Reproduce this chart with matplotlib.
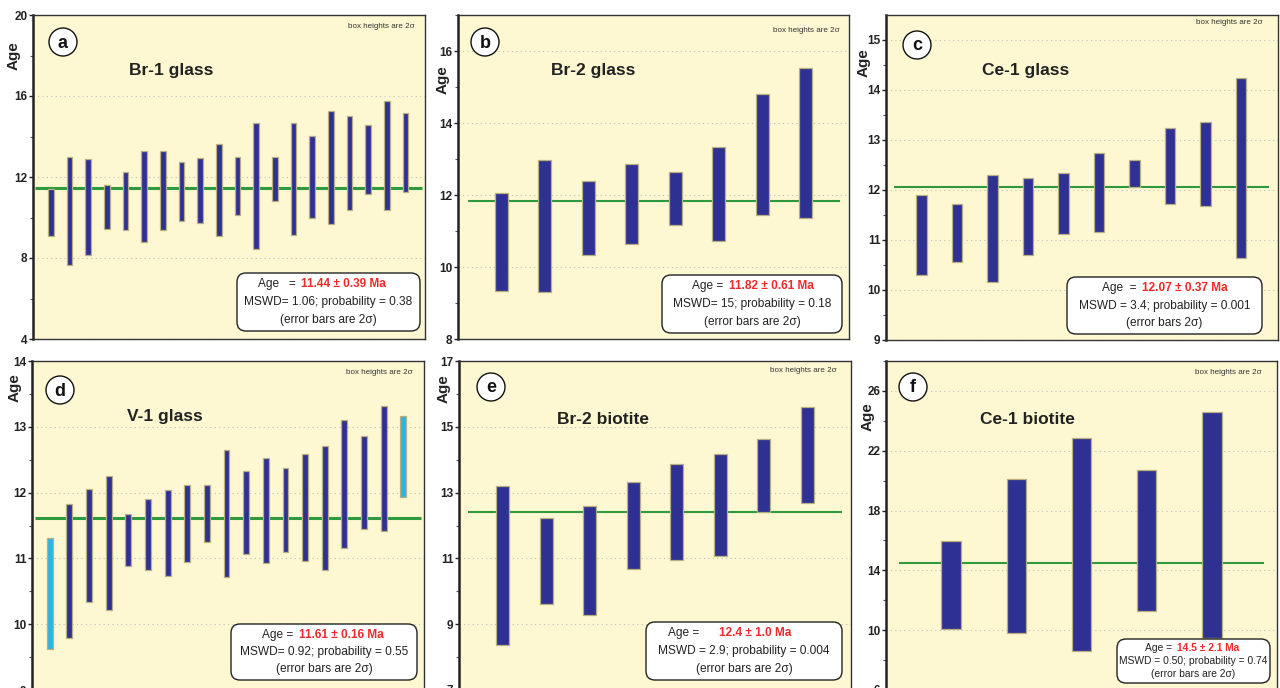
import matplotlib
matplotlib.use("Agg")
import matplotlib.pyplot as plt
from matplotlib.patches import FancyBboxPatch, Circle
from matplotlib.ticker import FixedLocator

plt.rcParams['font.family'] = ['Liberation Sans', 'DejaVu Sans']

# single-grain ages, bottom and top of each 2-sigma box (Ma)
br1_glass_lo = [9.07, 7.63, 8.13, 9.42, 9.39, 8.77, 9.40, 9.82, 9.74, 9.09,
                10.12, 8.43, 10.83, 9.16, 9.97, 9.67, 10.35, 11.14, 10.36, 11.24]
br1_glass_hi = [11.39, 13.01, 12.88, 11.61, 12.24, 13.29, 13.28, 12.72, 12.93, 13.64,
                13.00, 14.69, 13.00, 14.67, 14.04, 15.25, 15.03, 14.57, 15.76, 15.17]

br2_glass_lo = [9.33, 9.31, 10.34, 10.65, 11.16, 10.72, 11.44, 11.36]
br2_glass_hi = [12.06, 12.96, 12.38, 12.87, 12.64, 13.34, 14.81, 15.52]

ce1_glass_lo = [10.30, 10.57, 10.16, 10.71, 11.13, 11.17, 12.07, 11.73, 11.69, 10.65]
ce1_glass_hi = [11.91, 11.71, 12.31, 12.25, 12.35, 12.74, 12.61, 13.24, 13.36, 14.24]

v1_glass_lo = [9.62, 9.79, 10.33, 10.21, 10.88, 10.83, 10.73, 10.94, 11.25, 10.72,
               11.06, 10.93, 11.10, 10.96, 10.83, 11.16, 11.44, 11.41, 11.94]
v1_glass_hi = [11.31, 11.82, 12.06, 12.25, 11.67, 11.91, 12.04, 12.12, 12.12, 12.65,
               12.33, 12.53, 12.37, 12.58, 12.71, 13.11, 12.86, 13.31, 13.17]
v1_rejected = [True] + [False] * 17 + [True]

br2_biot_lo = [8.38, 9.62, 9.28, 10.68, 10.95, 11.07, 12.42, 12.68]
br2_biot_hi = [13.19, 12.24, 12.58, 13.32, 13.86, 14.18, 14.64, 15.59]

ce1_biot_lo = [10.07, 9.82, 8.61, 11.26, 9.46]
ce1_biot_hi = [15.98, 20.13, 22.83, 20.70, 24.61]

# weighted mean ages
mean_ages = [11.44, 11.82, 12.07, 11.61, 12.4, 14.5]
titles = ["Br-1 glass", "Br-2 glass", "Ce-1 glass", "V-1 glass", "Br-2 biotite", "Ce-1 biotite"]
letters = ["a", "b", "c", "d", "e", "f"]
age_text = ["Age   = ", "Age = ", "Age  = ", "Age = ", "Age =   ", "Age = "]
age_value = ["11.44 ± 0.39 Ma", "11.82 ± 0.61 Ma", "12.07 ± 0.37 Ma",
             "11.61 ± 0.16 Ma", "12.4 ± 1.0 Ma", "14.5 ± 2.1 Ma"]
mswd_text = ["MSWD= 1.06; probability = 0.38", "MSWD= 15; probability = 0.18",
             "MSWD = 3.4; probability = 0.001", "MSWD= 0.92; probability = 0.55",
             "MSWD = 2.9; probability = 0.004", "MSWD = 0.50; probability = 0.74"]
err_text = ["(error bars are 2σ)", "(error bars are 2σ)", "(error bars 2σ)",
            "(error bars are 2σ)", "(error bars are 2σ)", "(error bars are 2σ)"]

# labelled and unlabelled y ticks of each panel
major_ticks = [[4, 8, 12, 16, 20], [8, 10, 12, 14, 16], [9, 10, 11, 12, 13, 14, 15],
               [9, 10, 11, 12, 13, 14], [7, 9, 11, 13, 15, 17], [6, 10, 14, 18, 22, 26]]
minor_ticks = [[6, 10, 14, 18], [9, 11, 13, 15, 17], [9.5, 10.5, 11.5, 12.5, 13.5, 14.5],
               [9.5, 10.5, 11.5, 12.5, 13.5], [8, 10, 12, 14, 16], [8, 12, 16, 20, 24, 28]]

lows = [br1_glass_lo, br2_glass_lo, ce1_glass_lo, v1_glass_lo, br2_biot_lo, ce1_biot_lo]
highs = [br1_glass_hi, br2_glass_hi, ce1_glass_hi, v1_glass_hi, br2_biot_hi, ce1_biot_hi]

W, H = 1280, 688
NAVY = '#2E3192'
CYAN = '#29B5E8'
GREEN = '#2E9A3E'
PAPER = '#FEF8D2'

# panel frames in pixels: left, right, top, bottom
frames = [(33, 425, 15, 339), (458, 849, 15, 339), (886, 1278, 15, 340),
          (32, 424, 361, 690), (459, 851, 361, 690), (886, 1277, 361, 690)]
ylims = [(4, 20), (8, 17), (9, 15.5), (9, 14), (7, 17), (6, 28)]
xlims = [(0.05, 21.04), (0, 9), (0, 11.04), (0.1, 20.05), (0, 9), (0, 6)]
line_x = [(0.18, 20.86), (0.23, 8.8), (0.22, 10.8), (0.27, 19.88), (0.21, 8.8), (0.2, 5.8)]
line_w = [2.2, 1.5, 1.5, 2.2, 1.5, 1.5]

fig = plt.figure(figsize=(W / 100, H / 100), dpi=100)
fig.patch.set_facecolor('white')

for i in range(6):
    l, r, t, b = frames[i]
    ax = fig.add_axes([l / W, 1 - b / H, (r - l) / W, (b - t) / H])
    ax.set_facecolor(PAPER)
    xs = list(range(1, len(lows[i]) + 1))
    heights = [hi - lo for lo, hi in zip(lows[i], highs[i])]
    if i == 3:
        colors = [CYAN if rej else NAVY for rej in v1_rejected]
    else:
        colors = NAVY
    ax.bar(xs, heights, bottom=lows[i], width=0.3, color=colors,
           edgecolor='#B9AE82', linewidth=0.9, zorder=3)
    ax.hlines(mean_ages[i], line_x[i][0], line_x[i][1], color=GREEN,
              linewidth=line_w[i], zorder=2)
    ax.set_xlim(*xlims[i])
    ax.set_ylim(*ylims[i])
    ax.set_xticks([])
    ax.yaxis.set_major_locator(FixedLocator(major_ticks[i]))
    ax.yaxis.set_minor_locator(FixedLocator(minor_ticks[i]))
    ax.tick_params(axis='y', which='major', direction='out', length=3, width=1,
                   labelsize=8.5, pad=1, colors='#222222')
    ax.tick_params(axis='y', which='minor', direction='out', length=2.5, width=0.8,
                   colors='#555555')
    for lab in ax.get_yticklabels():
        lab.set_fontweight('bold')
    ax.grid(axis='y', which='major', linestyle=(0, (1, 3)), color='#BDBDBD',
            linewidth=0.8, zorder=0)
    for side in ['top', 'right', 'bottom']:
        ax.spines[side].set_linewidth(1.0)
        ax.spines[side].set_color('#333333')
    ax.spines['left'].set_linewidth(1.8)
    ax.spines['left'].set_color('#222222')

# overlay in pixel units for labels and boxes
ov = fig.add_axes([0, 0, 1, 1], zorder=10)
ov.set_xlim(0, W)
ov.set_ylim(H, 0)
ov.axis('off')
ov.patch.set_alpha(0)

circles = [(63, 42), (485, 42), (917, 45), (60, 390), (491, 387), (913, 387)]
title_xy = [(171, 70), (593, 71), (1026, 71), (165, 416), (603, 419), (1027, 420)]
note_xy = [(415, 27), (840, 30), (1263, 22), (413, 373), (837, 370), (1262, 373)]
ylabel_xy = [(14, 56), (443, 80), (864, 63), (15, 388), (444, 389), (868, 417)]
boxes = [(237, 420, 273, 331), (662, 842, 275, 333), (1067, 1262, 277, 334),
         (231, 417, 624, 680), (646, 842, 622, 680), (1117, 1270, 639, 683)]
split_x = [(299, 301), (727, 729), (1140, 1142), (297, 299), (709, 719), (1175, 1177)]
box_font = [8.6, 8.6, 8.6, 8.6, 8.6, 7.4]

for i in range(6):
    cx, cy = circles[i]
    ov.add_patch(Circle((cx, cy), 14, facecolor='white', edgecolor='#111111', linewidth=1.0))
    ov.text(cx, cy + 1, letters[i], ha='center', va='center', fontsize=13,
            fontweight='bold', color='#111111')
    ov.text(*title_xy[i], titles[i], ha='center', va='center', fontsize=12.5,
            fontweight='bold', color='#222222')
    ov.text(*note_xy[i], "box heights are 2σ", ha='right', va='center',
            fontsize=5.8, color='#333333')
    ov.text(*ylabel_xy[i], "Age", ha='center', va='center', rotation=90,
            fontsize=11, fontweight='bold', color='#222222')

    x0, x1, y0, y1 = boxes[i]
    rad = 9
    ov.add_patch(FancyBboxPatch((x0 + rad, y0 + rad), x1 - x0 - 2 * rad, y1 - y0 - 2 * rad,
                                boxstyle=f"round,pad={rad}", facecolor='white',
                                edgecolor='#222222', linewidth=1.0))
    xc = (x0 + x1) / 2
    dy = (y1 - y0) / 3.3
    ym = (y0 + y1) / 2
    fs = box_font[i]
    ov.text(split_x[i][0], ym - dy, age_text[i], ha='right', va='center',
            fontsize=fs, color='#222222')
    ov.text(split_x[i][1], ym - dy, age_value[i], ha='left', va='center',
            fontsize=fs, fontweight='bold', color='#EE2A2A')
    ov.text(xc, ym, mswd_text[i], ha='center', va='center', fontsize=fs, color='#222222')
    ov.text(xc, ym + dy, err_text[i], ha='center', va='center', fontsize=fs, color='#222222')

fig.savefig("out.png", dpi=100, facecolor='white')
